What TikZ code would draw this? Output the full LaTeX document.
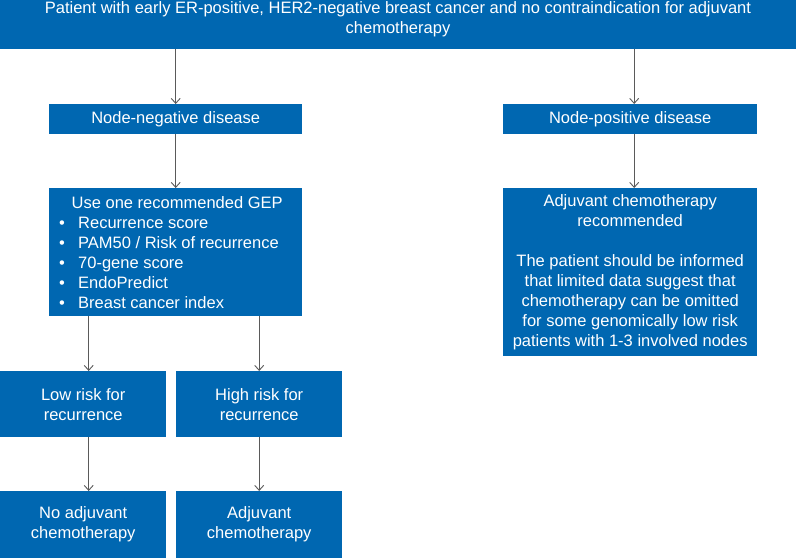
\documentclass[tikz,border=0pt]{standalone}
\usepackage{fontspec}
\setmainfont{Liberation Sans}
\usetikzlibrary{arrows.meta}
\definecolor{boxblue}{RGB}{0,103,177}
\definecolor{linegray}{RGB}{90,90,90}
\tikzset{
  box/.style={fill=boxblue, draw=none, text=white, anchor=north west, inner sep=0pt,
    align=center, font=\fontsize{16.5}{20}\selectfont},
  arr/.style={draw=linegray, line width=0.9pt, -{Straight Barb[length=5pt,width=9pt,line width=0.9pt]}, color=linegray},
}
\begin{document}
\begin{tikzpicture}[x=1pt, y=-1pt]
\useasboundingbox (0,0) rectangle (796,558);
% top box
\node[box, minimum width=796pt, minimum height=49pt] (top) at (0,0) {};
\node[text=white, align=center, font=\fontsize{16.5}{19.5}\selectfont, inner sep=0pt] (toptext) at (398,19)
  {Patient with early ER-positive, HER2-negative breast cancer and no contraindication for adjuvant\\chemotherapy};
% second row
\node[box, minimum width=253pt, minimum height=30pt] (nn) at (49,104) {\raisebox{-1pt}{Node-negative disease}};
\node[box, minimum width=254pt, minimum height=30pt] (np) at (503,104) {\raisebox{-1pt}{Node-positive disease}};
% GEP box
\node[box, minimum width=253pt, minimum height=128pt] (gep) at (49,188)
  {\parbox[c]{253pt}{\fontsize{16.5}{20}\selectfont\centering\hspace*{3pt}Use one recommended GEP\par
   \raggedright
   \hspace*{10pt}\makebox[19pt][l]{\textbullet}Recurrence score\par
   \hspace*{10pt}\makebox[19pt][l]{\textbullet}PAM50 / Risk of recurrence\par
   \hspace*{10pt}\makebox[19pt][l]{\textbullet}70-gene score\par
   \hspace*{10pt}\makebox[19pt][l]{\textbullet}EndoPredict\par
   \hspace*{10pt}\makebox[19pt][l]{\textbullet}Breast cancer index\par}};
% right recommendation box
\node[box, minimum width=254pt, minimum height=168pt] (rec) at (503,188)
  {Adjuvant chemotherapy\\recommended\\[20pt]The patient should be informed\\that limited data suggest that\\chemotherapy can be omitted\\for some genomically low risk\\patients with 1-3 involved nodes};
% risk boxes
\node[box, minimum width=166pt, minimum height=66pt] (low) at (0,371) {Low risk for\\recurrence};
\node[box, minimum width=166pt, minimum height=66pt] (high) at (176,371) {High risk for\\recurrence};
% outcome boxes
\node[box, minimum width=166pt, minimum height=67pt] (noadj) at (0,491) {No adjuvant\\chemotherapy};
\node[box, minimum width=166pt, minimum height=67pt] (adj) at (176,491) {Adjuvant\\chemotherapy};
% connectors
\draw[arr] (nn.north |- top.south) -- (nn.north);
\draw[arr] ([xshift=4pt]np.north |- top.south) -- ([xshift=4pt]np.north);
\draw[arr] (nn.south) -- (gep.north);
\draw[arr] ([xshift=4pt]np.south) -- ([xshift=4pt]rec.north);
\draw[arr] ([xshift=5.5pt]low.north |- gep.south) -- ([xshift=5.5pt]low.north);
\draw[arr] (high.north |- gep.south) -- (high.north);
\draw[arr] ([xshift=5.5pt]low.south) -- ([xshift=5.5pt]noadj.north);
\draw[arr] (high.south) -- (adj.north);
\end{tikzpicture}
\end{document}
